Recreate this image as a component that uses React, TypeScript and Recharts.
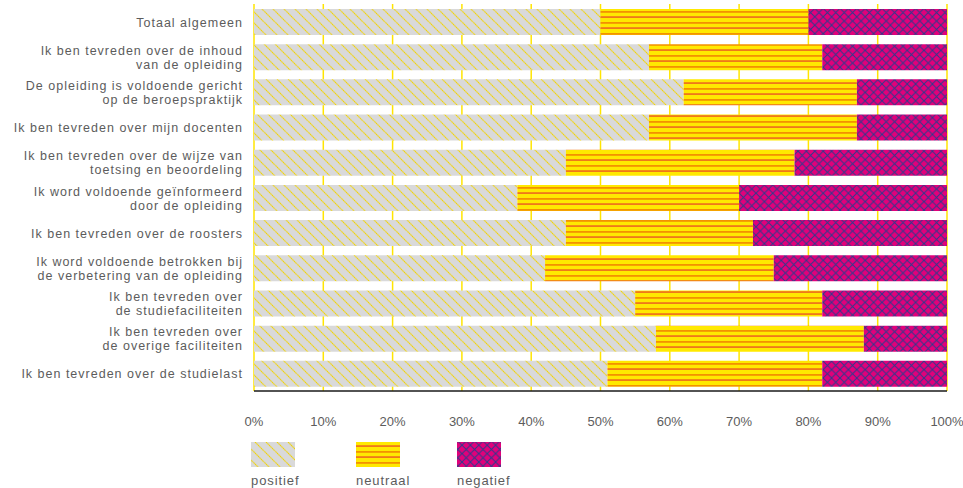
import { BarChart, Bar, XAxis, YAxis, CartesianGrid } from "recharts"

// Survey statements (line breaks as in the original labels)
const categories = [
  "Totaal algemeen",
  "Ik ben tevreden over de inhoud\nvan de opleiding",
  "De opleiding is voldoende gericht\nop de beroepspraktijk",
  "Ik ben tevreden over mijn docenten",
  "Ik ben tevreden over de wijze van\ntoetsing en beoordeling",
  "Ik word voldoende geïnformeerd\ndoor de opleiding",
  "Ik ben tevreden over de roosters",
  "Ik word voldoende betrokken bij\nde verbetering van de opleiding",
  "Ik ben tevreden over\nde studiefaciliteiten",
  "Ik ben tevreden over\nde overige faciliteiten",
  "Ik ben tevreden over de studielast",
]

const positief = [50, 57, 62, 57, 45, 38, 45, 42, 55, 58, 51]
const neutraal = [30, 25, 25, 30, 33, 32, 27, 33, 27, 30, 31]
const negatief = [20, 18, 13, 13, 22, 30, 28, 25, 18, 12, 18]

const seriesNames = ["positief", "neutraal", "negatief"]
const xTicks = [0, 10, 20, 30, 40, 50, 60, 70, 80, 90, 100]

const FONT = "'Liberation Sans', Arial, sans-serif"
const TEXT = "#5c5c5c"

const data = categories.map((label, i) => ({
  label,
  positief: positief[i],
  neutraal: neutraal[i],
  negatief: negatief[i],
}))

function Patterns({ prefix }: { prefix: string }) {
  return (
    <defs>
      <pattern id={`${prefix}-positief`} patternUnits="userSpaceOnUse" width={11} height={11}>
        <rect width={11} height={11} fill="#d9d9da" />
        <path
          d="M-1,-1 L12,12 M-3,8 L3,14 M8,-3 L14,3"
          stroke="#f2d400"
          strokeWidth={1.1}
          strokeDasharray="1.6 0.5"
        />
      </pattern>
      <pattern id={`${prefix}-neutraal`} patternUnits="userSpaceOnUse" width={6} height={11}>
        <rect width={6} height={11} fill="#ffe900" />
        <rect y={0} width={6} height={1.8} fill="#f39200" />
        <rect y={5.5} width={6} height={1.1} fill="#e6302a" />
      </pattern>
      <pattern id={`${prefix}-negatief`} patternUnits="userSpaceOnUse" width={8.4} height={8.4}>
        <rect width={8.4} height={8.4} fill="#e2007a" />
        <path d="M-1,-1 L9.4,9.4 M9.4,-1 L-1,9.4" stroke="#2e3a8c" strokeWidth={1} />
      </pattern>
    </defs>
  )
}

function CategoryTick({ x, y, payload }: any) {
  const lines = String(payload.value).split("\n")
  const lineHeight = 14
  const first = 5 - ((lines.length - 1) * lineHeight) / 2
  return (
    <text
      x={x}
      y={y}
      textAnchor="end"
      fill={TEXT}
      fontSize={12.5}
      fontFamily={FONT}
      letterSpacing={1}
    >
      {lines.map((line, i) => (
        <tspan key={i} x={x} dy={i === 0 ? first : lineHeight}>
          {line}
        </tspan>
      ))}
    </text>
  )
}

function LegendOverlay() {
  const xs = [251, 356, 457]
  return (
    <svg
      width={963}
      height={488}
      style={{ position: "absolute", left: 0, top: 0, pointerEvents: "none" }}
    >
      <Patterns prefix="legend" />
      {seriesNames.map((name, i) => (
        <g key={name}>
          <rect x={xs[i]} y={442} width={44} height={25} fill={`url(#legend-${name})`} />
          <text
            x={xs[i]}
            y={485}
            fill={TEXT}
            fontSize={13}
            fontFamily={FONT}
            letterSpacing={0.9}
          >
            {name}
          </text>
        </g>
      ))}
    </svg>
  )
}

export default function App() {
  return (
    <div style={{ position: "absolute", left: 0, top: 0, width: 963, height: 488, background: "#fff" }}>
      <BarChart
        width={963}
        height={488}
        data={data}
        layout="vertical"
        margin={{ top: 4, right: 16, bottom: 67, left: 0 }}
        barSize={26}
      >
        <Patterns prefix="pat" />
        <CartesianGrid horizontal={false} stroke="#ffe500" strokeWidth={1.5} />
        <XAxis
          type="number"
          domain={[0, 100]}
          ticks={xTicks}
          tickFormatter={(v) => `${v}%`}
          axisLine={{ stroke: "#1a1a1a", strokeWidth: 1.5 }}
          tickLine={false}
          tickSize={0}
          tickMargin={26}
          height={30}
          tick={{ fill: TEXT, fontSize: 13, fontFamily: FONT }}
        />
        <YAxis
          type="category"
          dataKey="label"
          width={254}
          axisLine={false}
          tickLine={false}
          tickSize={0}
          tickMargin={11}
          interval={0}
          tick={<CategoryTick />}
        />
        {seriesNames.map((name) => (
          <Bar
            key={name}
            dataKey={name}
            stackId="a"
            fill={`url(#pat-${name})`}
            isAnimationActive={false}
          />
        ))}
      </BarChart>
      <LegendOverlay />
    </div>
  )
}
